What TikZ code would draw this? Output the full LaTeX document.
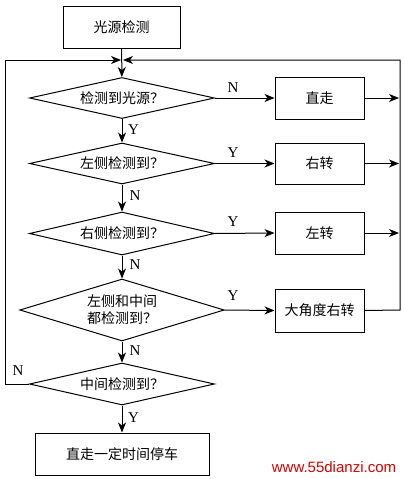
\documentclass[tikz,border=0pt]{standalone}
\usepackage{fontspec}
\setmainfont{Liberation Serif}
\newfontfamily\cjk{Noto Sans CJK SC}
\newfontfamily\wmfont{Liberation Sans}
\usetikzlibrary{shapes.geometric,arrows.meta}
\begin{document}
\begin{tikzpicture}[x=1pt,y=-1pt,
  line width=1pt,
  box/.style={draw,rectangle,inner sep=0pt,font=\cjk\fontsize{14}{16}\selectfont},
  dia/.style={draw,diamond,inner sep=0pt,aspect=4.5,align=center,font=\cjk\fontsize{14}{17}\selectfont},
  lbl/.style={font=\fontsize{15}{15}\selectfont,inner sep=0pt},
  arr/.style={-{Stealth[length=10pt,width=8pt,inset=3pt]}}]
\useasboundingbox (0,0) rectangle (404,479);
\node[box,minimum width=117pt,minimum height=42pt] (start) at (121.5,27) {光源检测};
\node[dia,minimum width=185pt,minimum height=41pt] (d1) at (122,98) {检测到光源？};
\node[dia,minimum width=185pt,minimum height=41pt] (d2) at (122,163.5) {左侧检测到？};
\node[dia,minimum width=185pt,minimum height=43pt] (d3) at (122,233.5) {右侧检测到？};
\node[dia,minimum width=195pt,minimum height=62pt] (d4) at (122,310) {左侧和中间\\都检测到？};
\node[dia,minimum width=185pt,minimum height=42pt] (d5) at (122,384) {中间检测到？};
\node[box,minimum width=174pt,minimum height=42pt] (stop) at (122,454) {直走一定时间停车};
\node[box,minimum width=89pt,minimum height=42pt] (b1) at (319.5,98) {直走};
\node[box,minimum width=89pt,minimum height=41pt] (b2) at (319.5,163.5) {右转};
\node[box,minimum width=89pt,minimum height=42pt] (b3) at (319.5,233) {左转};
\node[box,minimum width=89pt,minimum height=43pt] (b4) at (319.5,310.5) {大角度右转};
\coordinate (tl) at (5,60);
\coordinate (tr) at (400,60);
\coordinate (bl) at (5,384);
\coordinate (br) at (400,310);
\coordinate (ml) at (121,60);
\coordinate (mr) at (123,60);
\coordinate (e1) at (399,98);
\coordinate (e2) at (399,163.5);
\coordinate (e3) at (399,233);
% main flow
\draw[arr] (start) -- (d1);
\draw[arr] (d1) -- (d2);
\draw[arr] (d2) -- (d3);
\draw[arr] (d3) -- (d4);
\draw[arr] (d4) -- (d5);
\draw[arr] (d5) -- (stop);
% branches
\draw[arr] (d1.east) -- (b1.west);
\draw[arr] (d2.east) -- (b2.west);
\draw[arr] (d3.east) -- (b3.west);
\draw[arr] (d4.east) -- (b4.west);
\draw[arr] (b1.east) -- (e1);
\draw[arr] (b2.east) -- (e2);
\draw[arr] (b3.east) -- (e3);
\draw[arr] (b4.east) -- (br) -- (tr) -- (mr);
\draw[arr] (d5.west) -- (bl) -- (tl) -- (ml);
% labels
\node[lbl] (n1) at (233,88) {N};
\node[lbl] (y2) at (233,153) {Y};
\node[lbl] (y3) at (233,222) {Y};
\node[lbl] (y4) at (233,296) {Y};
\node[lbl] (y1) at (133.5,130) {Y};
\node[lbl] (n2) at (135,196) {N};
\node[lbl] (n3) at (135,265) {N};
\node[lbl] (n4) at (135,351) {N};
\node[lbl] (y5) at (133.5,418) {Y};
\node[lbl] (n5) at (18,371) {N};
\node[inner sep=0pt,text=red!85!black,font=\wmfont\fontsize{15}{15}\selectfont] (wm) at (334,467) {www.55dianzi.com};
\end{tikzpicture}
\end{document}
